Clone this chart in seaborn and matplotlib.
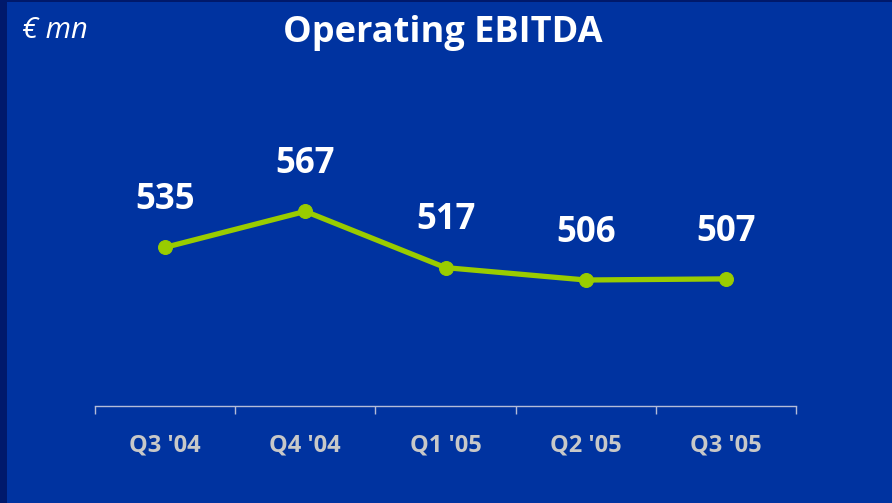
import matplotlib
matplotlib.use("Agg")
import matplotlib.pyplot as plt
import seaborn as sns
import pandas as pd
from matplotlib.patches import Rectangle
from matplotlib.ticker import FixedLocator

quarters = ["Q3 '04", "Q4 '04", "Q1 '05", "Q2 '05", "Q3 '05"]
ebitda = [535, 567, 517, 506, 507]

df = pd.DataFrame({"quarter": quarters, "ebitda": ebitda})

sns.set_style("white")
plt.rcParams["font.family"] = ["Open Sans", "DejaVu Sans"]

bg = "#0033A0"
frame = "#00196B"
green = "#99CC00"

fig = plt.figure(figsize=(8.92, 5.03), dpi=100, facecolor=bg)
# dark strips on the left and top edge
fig.patches.append(Rectangle((0, 0), 7 / 892, 1, transform=fig.transFigure,
                             facecolor=frame, edgecolor="none"))
fig.patches.append(Rectangle((0, 1 - 2 / 503), 1, 2 / 503, transform=fig.transFigure,
                             facecolor=frame, edgecolor="none"))

ax = fig.add_axes([95 / 892, 1 - 406 / 503, 701 / 892, 306 / 503])
ax.set_facecolor("none")

sns.lineplot(data=df, x="quarter", y="ebitda", ax=ax, color=green, linewidth=3.8,
             marker="o", markersize=10, markeredgecolor=green, sort=False)

for i, v in enumerate(ebitda):
    ax.annotate(str(v), (i, v), xytext=(0, 34), textcoords="offset points",
                ha="center", va="center", color="white", fontsize=25, fontweight="bold")

ax.set_xlim(-0.5, 4.5)
ax.set_ylim(394, 394 + 306 / 1.125)
ax.set_xlabel("")
ax.set_ylabel("")
ax.set_yticks([])
for s in ["top", "right", "left"]:
    ax.spines[s].set_visible(False)
ax.spines["bottom"].set_color("#B4BCD8")
ax.spines["bottom"].set_linewidth(1)

ax.set_xticks(range(len(quarters)))
ax.set_xticklabels(quarters, color="#C8C8C8", fontsize=17, fontweight="bold")
ax.tick_params(axis="x", which="major", bottom=False, length=0, pad=20)
ax.xaxis.set_minor_locator(FixedLocator([i - 0.5 for i in range(len(quarters) + 1)]))
ax.tick_params(axis="x", which="minor", bottom=True, length=6, color="#B4BCD8",
               width=1, direction="out")

fig.text(443 / 892, 1 - 33 / 503, "Operating EBITDA", ha="center", va="center",
         color="white", fontsize=26, fontweight="bold")
fig.text(22 / 892, 1 - 30 / 503, "€ mn", ha="left", va="center",
         color="white", fontsize=21, style="italic")

fig.savefig("out.png", dpi=100, facecolor=fig.get_facecolor())
